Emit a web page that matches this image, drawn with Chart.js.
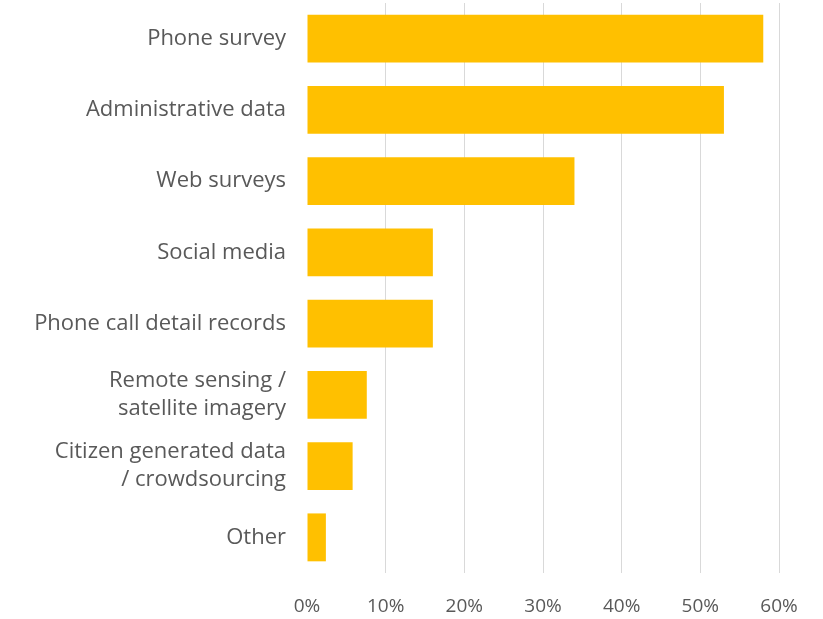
<!DOCTYPE html>
<html>
<head>
<meta charset="utf-8">
<script src="https://cdn.jsdelivr.net/npm/chart.js@4/dist/chart.umd.min.js"></script>
<style>
  html, body { margin: 0; padding: 0; background: #fff; }
  #wrap { width: 823px; height: 619px; position: relative; }
</style>
</head>
<body>
<div id="wrap"><canvas id="SourcesChart"></canvas></div>
<script>
const categories = [
  "Phone survey",
  "Administrative data",
  "Web surveys",
  "Social media",
  "Phone call detail records",
  ["Remote sensing /", "satellite imagery"],
  ["Citizen generated data", "/ crowdsourcing"],
  "Other",
];
const shares = [58, 53, 34, 16, 16, 7.6, 5.8, 2.4];
const xTicks = [0, 10, 20, 30, 40, 50, 60];

const textColor = "#595959";
const fontFamily = "'Open Sans', 'Liberation Sans', sans-serif";

new Chart(document.querySelector("#SourcesChart"), {
  type: "bar",
  data: {
    labels: categories,
    datasets: [
      {
        data: shares,
        backgroundColor: "#FFC000",
        borderWidth: 0,
        barPercentage: 0.82,
        categoryPercentage: 0.82,
      },
    ],
  },
  options: {
    indexAxis: "y",
    responsive: true,
    maintainAspectRatio: false,
    animation: false,
    layout: { padding: { top: 3, right: 44, bottom: 0, left: 0 } },
    plugins: {
      legend: { display: false },
      tooltip: { enabled: false },
    },
    scales: {
      x: {
        min: 0,
        max: 60,
        afterBuildTicks(axis) {
          axis.ticks = xTicks.map((value) => ({ value }));
        },
        afterFit(axis) {
          axis.height = 46;
        },
        grid: {
          color(ctx) {
            return ctx.tick && ctx.tick.value === 0 ? "rgba(0,0,0,0)" : "#d9d9d9";
          },
          lineWidth: 1,
          drawTicks: false,
        },
        border: { display: false },
        ticks: {
          padding: 22,
          color: textColor,
          font: { family: fontFamily, size: 19 },
          callback(value) {
            return `${value}%`;
          },
        },
      },
      y: {
        afterFit(axis) {
          axis.width = 307;
          axis.paddingTop = 0;
          axis.paddingBottom = 0;
        },
        grid: { display: false, drawTicks: false },
        border: { display: false },
        ticks: {
          padding: 21,
          color: textColor,
          font: { family: fontFamily, size: 22, lineHeight: 1.27 },
        },
      },
    },
  },
});
</script>
</body>
</html>
